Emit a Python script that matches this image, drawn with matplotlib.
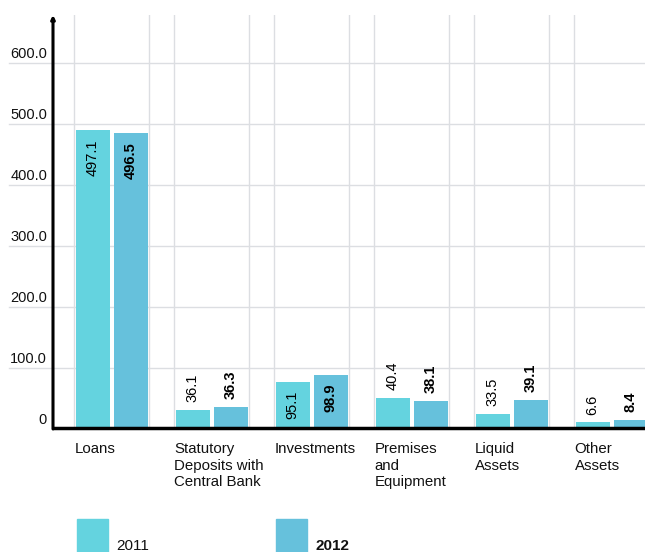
import matplotlib
matplotlib.use('Agg')
import matplotlib.pyplot as plt
import matplotlib.patches as patches

plt.rcParams['font.family'] = ['Liberation Sans', 'DejaVu Sans']

# data
categories = ['Loans', 'Statutory\nDeposits with\nCentral Bank', 'Investments',
              'Premises\nand\nEquipment', 'Liquid\nAssets', 'Other\nAssets']
series = ['2011', '2012']
labels_2011 = ['497.1', '36.1', '95.1', '40.4', '33.5', '6.6']
labels_2012 = ['496.5', '36.3', '98.9', '38.1', '39.1', '8.4']
# bar heights as drawn in the picture
heights_2011 = [490, 31, 77, 51, 25, 11]
heights_2012 = [485, 36, 89, 46, 48, 15]
yticks = [0, 100, 200, 300, 400, 500, 600]

colors = ['#64d3df', '#66c1dc']
grid_color = '#dcdee2'

W, H = 645, 552
fig = plt.figure(figsize=(W / 100, H / 100), dpi=100)
ax = fig.add_axes([53 / W, (H - 429) / H, (W - 53) / W, 414 / H])
ax.set_xlim(-0.585, 5.335)
ax.set_ylim(0, 678.7)
for s in ax.spines.values():
    s.set_visible(False)
ax.set_xticks([])
ax.set_yticks([])

n = len(categories)
xs = list(range(n))

# vertical grid lines at group edges
for x in xs:
    for edge in (x - 0.375, x + 0.375):
        ax.axvline(edge, color=grid_color, lw=1, zorder=0)

# horizontal grid lines extend under tick labels
for t in yticks:
    if t > 0:
        ax.plot([-0.074, 1], [t, t], transform=ax.get_yaxis_transform(),
                color=grid_color, lw=1, clip_on=False, zorder=0)
    lab = '0' if t == 0 else f'{t:.1f}'
    ax.annotate(lab, xy=(-0.010, t), xycoords=ax.get_yaxis_transform(),
                xytext=(0, 1.5), textcoords='offset points',
                ha='right', va='bottom', fontsize=10.5, color='#111111',
                annotation_clip=False)

# bars
off = 0.19
bw = 0.34
b1 = ax.bar([x - off for x in xs], heights_2011, bw, color=colors[0], zorder=2)
b2 = ax.bar([x + off for x in xs], heights_2012, bw, color=colors[1], zorder=2)

def put_labels(bars, labels, weight):
    for rect, lab in zip(bars, labels):
        h = rect.get_height()
        cx = rect.get_x() + rect.get_width() / 2
        if h > 70:
            ax.annotate(lab, xy=(cx, h), xytext=(0, -6.5), textcoords='offset points',
                        ha='center', va='top', rotation=90, fontsize=10.5,
                        fontweight=weight, color='black', zorder=3)
        else:
            ax.annotate(lab, xy=(cx, h), xytext=(0, 5.5), textcoords='offset points',
                        ha='center', va='bottom', rotation=90, fontsize=10.5,
                        fontweight=weight, color='black', zorder=3)

put_labels(b1, labels_2011, 'normal')
put_labels(b2, labels_2012, 'bold')

# axes lines
ax.plot([0, 1], [0.002, 0.002], transform=ax.transAxes, color='black', lw=2.5,
        clip_on=False, zorder=4, solid_capstyle='butt')
ax.annotate('', xy=(0, 1.0), xytext=(0, 0), xycoords='axes fraction',
            arrowprops=dict(arrowstyle='-|>', lw=2.2, color='black',
                            mutation_scale=5, shrinkA=0, shrinkB=0), zorder=4)

# category labels, left-aligned at each group's left edge
for i, cat in enumerate(categories):
    ax.annotate(cat, xy=(i - 0.37, 0), xycoords=('data', 'axes fraction'),
                xytext=(0, -9.5), textcoords='offset points', ha='left', va='top',
                fontsize=10.8, linespacing=1.22, color='#111111', annotation_clip=False)

# legend
leg_x = [77, 276]
for i, name in enumerate(series):
    fig.add_artist(patches.Rectangle((leg_x[i] / W, 0), 31 / W, 33 / H,
                                     transform=fig.transFigure, color=colors[i]))
    fig.text((leg_x[i] + 39) / W, 1.5 / H, name, ha='left', va='baseline', fontsize=11,
             fontweight='bold' if i == 1 else 'normal', color='#111111')

fig.savefig('out.png', dpi=100)
